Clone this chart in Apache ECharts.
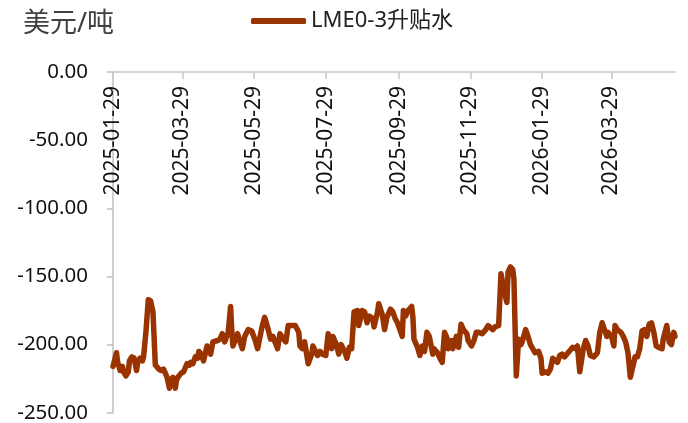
<!DOCTYPE html>
<html>
<head>
<meta charset="utf-8">
<script src="https://cdn.jsdelivr.net/npm/echarts@6/dist/echarts.min.js"></script>
<style>
html,body{margin:0;padding:0;background:#fff;}
#chart{width:688px;height:423px;}
</style>
</head>
<body>
<div id="chart"></div>
<script>
var seriesName = 'LME0-3升贴水';
var unitLabel = '美元/吨';
var startDate = '2025-01-29';
var endDate = '2026-05-22';
var yTicks = [0, -50, -100, -150, -200, -250];

var dates = [
'2025-01-29','2025-02-01','2025-02-02','2025-02-04','2025-02-06','2025-02-07','2025-02-09','2025-02-11','2025-02-12','2025-02-14',
'2025-02-16','2025-02-18','2025-02-19','2025-02-21','2025-02-23','2025-02-24','2025-02-26','2025-02-28','2025-03-02','2025-03-03',
'2025-03-04','2025-03-06','2025-03-07','2025-03-09','2025-03-11','2025-03-13','2025-03-14','2025-03-16','2025-03-18','2025-03-19',
'2025-03-21','2025-03-23','2025-03-24','2025-03-26','2025-03-28','2025-03-30','2025-03-31','2025-04-02','2025-04-04','2025-04-05',
'2025-04-07','2025-04-09','2025-04-11','2025-04-12','2025-04-14','2025-04-16','2025-04-19','2025-04-22','2025-04-24','2025-04-28',
'2025-04-30','2025-05-02','2025-05-04','2025-05-07','2025-05-09','2025-05-10','2025-05-11','2025-05-15','2025-05-16','2025-05-19',
'2025-05-21','2025-05-24','2025-05-27','2025-05-30','2025-06-01','2025-06-05','2025-06-07','2025-06-10','2025-06-12','2025-06-14',
'2025-06-18','2025-06-20','2025-06-23','2025-06-25','2025-06-27','2025-06-30','2025-07-03','2025-07-06','2025-07-07','2025-07-09',
'2025-07-11','2025-07-14','2025-07-17','2025-07-18','2025-07-22','2025-07-24','2025-07-26','2025-07-29','2025-07-31','2025-08-03',
'2025-08-04','2025-08-07','2025-08-09','2025-08-11','2025-08-14','2025-08-16','2025-08-18','2025-08-20','2025-08-22','2025-08-25',
'2025-08-26','2025-08-29','2025-08-31','2025-09-02','2025-09-04','2025-09-07','2025-09-08','2025-09-11','2025-09-12','2025-09-15',
'2025-09-17','2025-09-19','2025-09-22','2025-09-24','2025-09-26','2025-09-28','2025-09-30','2025-10-02','2025-10-03','2025-10-05',
'2025-10-07','2025-10-10','2025-10-11','2025-10-12','2025-10-15','2025-10-17','2025-10-19','2025-10-21','2025-10-23','2025-10-25',
'2025-10-28','2025-10-29','2025-11-01','2025-11-03','2025-11-05','2025-11-07','2025-11-09','2025-11-10','2025-11-13','2025-11-14',
'2025-11-17','2025-11-19','2025-11-21','2025-11-23','2025-11-26','2025-11-27','2025-11-30','2025-12-02','2025-12-04','2025-12-06',
'2025-12-09','2025-12-12','2025-12-14','2025-12-18','2025-12-20','2025-12-23','2025-12-25','2025-12-26','2025-12-28','2025-12-30',
'2025-12-31','2026-01-02','2026-01-04','2026-01-05','2026-01-07','2026-01-09','2026-01-11','2026-01-12','2026-01-15','2026-01-17',
'2026-01-19','2026-01-21','2026-01-23','2026-01-26','2026-01-28','2026-01-29','2026-02-01','2026-02-03','2026-02-05','2026-02-07',
'2026-02-08','2026-02-11','2026-02-13','2026-02-15','2026-02-17','2026-02-20','2026-02-21','2026-02-24','2026-02-26','2026-02-28',
'2026-03-02','2026-03-05','2026-03-07','2026-03-09','2026-03-11','2026-03-14','2026-03-15','2026-03-17','2026-03-19','2026-03-21',
'2026-03-23','2026-03-25','2026-03-26','2026-03-29','2026-03-31','2026-04-01','2026-04-03','2026-04-06','2026-04-08','2026-04-10',
'2026-04-12','2026-04-14','2026-04-17','2026-04-18','2026-04-20','2026-04-22','2026-04-24','2026-04-26','2026-04-28','2026-04-30',
'2026-05-02','2026-05-04','2026-05-06','2026-05-08','2026-05-11','2026-05-12','2026-05-15','2026-05-17','2026-05-19','2026-05-21',
'2026-05-22'
];

var values = [
-216,-206,-213,-219,-216,-220,-223,-220,-212,-209,
-210,-219,-213,-210,-212,-209,-191,-167,-168,-172,
-176,-215,-215,-218,-219,-218,-220,-224,-232,-226,
-224,-232,-226,-223,-221,-220,-219,-214,-215,-213,
-214,-209,-210,-205,-207,-212,-201,-207,-198,-197,
-196,-192,-198,-191,-172,-189,-201,-192,-195,-203,
-194,-189,-190,-197,-203,-186,-180,-189,-196,-194,
-203,-192,-196,-198,-186,-186,-186,-191,-201,-203,
-198,-214,-207,-201,-208,-205,-207,-208,-192,-203,
-194,-200,-207,-200,-205,-210,-202,-203,-176,-175,
-186,-175,-176,-184,-179,-181,-187,-176,-170,-178,
-189,-180,-174,-176,-181,-184,-189,-194,-175,-179,
-175,-172,-179,-196,-202,-208,-201,-205,-191,-194,
-207,-203,-206,-210,-213,-191,-195,-203,-197,-203,
-194,-202,-185,-189,-192,-197,-201,-197,-191,-191,
-192,-189,-186,-189,-187,-186,-148,-148,-162,-169,
-147,-143,-145,-152,-223,-196,-200,-198,-189,-194,
-200,-203,-206,-205,-210,-221,-220,-221,-218,-210,
-210,-213,-208,-207,-209,-206,-207,-202,-203,-201,
-220,-203,-197,-201,-208,-209,-208,-206,-191,-184,
-189,-194,-191,-194,-201,-186,-189,-191,-194,-198,
-206,-224,-213,-209,-209,-203,-190,-189,-194,-185,
-184,-191,-201,-202,-203,-196,-186,-198,-200,-191,
-194
];

// daily category axis from start to end
function buildDays(s, e) {
  var out = [];
  var d = new Date(s + 'T00:00:00Z');
  var end = new Date(e + 'T00:00:00Z');
  while (d <= end) {
    out.push(d.toISOString().slice(0, 10));
    d.setUTCDate(d.getUTCDate() + 1);
  }
  return out;
}
var days = buildDays(startDate, endDate);
var lookup = {};
dates.forEach(function (d, i) { lookup[d] = values[i]; });
var seriesData = days.map(function (d) { return lookup[d] === undefined ? null : lookup[d]; });

function isTickDay(v) {
  var m = parseInt(v.slice(5, 7), 10);
  return v.slice(8, 10) === '29' && (m % 2 === 1);
}

var FONT = '"Noto Sans", "Noto Sans CJK SC", sans-serif';
var chart = echarts.init(document.getElementById('chart'), null, {renderer: 'canvas'});
chart.setOption({
  animation: false,
  backgroundColor: '#ffffff',
  textStyle: {fontFamily: FONT},
  title: {
    text: unitLabel,
    left: 18, top: 6,
    textStyle: {fontSize: 27, fontWeight: 'normal', color: '#404040', fontFamily: FONT}
  },
  legend: {
    left: 246, top: 5,
    icon: 'roundRect',
    itemWidth: 55, itemHeight: 6, itemGap: 5,
    textStyle: {fontSize: 22, color: '#222', fontFamily: FONT},
    data: [seriesName]
  },
  grid: {left: 113, right: 13, top: 72, bottom: 9, containLabel: false},
  xAxis: {
    type: 'category',
    position: 'top',
    data: days,
    boundaryGap: false,
    axisLine: {show: true, lineStyle: {color: '#C8C8C8', width: 1.5}},
    axisTick: {show: true, inside: true, length: 7, interval: function (i, v) { return isTickDay(v); }, lineStyle: {color: '#C8C8C8', width: 1.5}},
    axisLabel: {
      show: true, inside: true, rotate: 90, margin: 14,
      interval: function (i, v) { return isTickDay(v); },
      fontSize: 21, color: '#111', fontFamily: FONT
    },
    splitLine: {show: false}
  },
  yAxis: {
    type: 'value',
    min: -250, max: 0, interval: 50,
    axisLine: {show: true, lineStyle: {color: '#BFBFBF', width: 1.5}},
    axisTick: {show: true, length: 6, lineStyle: {color: '#BFBFBF', width: 1.5}},
    axisLabel: {
      margin: 25, fontSize: 20.5, color: '#111', fontFamily: FONT,
      formatter: function (v) { return v.toFixed(2); }
    },
    splitLine: {show: false}
  },
  series: [{
    name: seriesName,
    type: 'line',
    data: seriesData,
    connectNulls: true,
    showSymbol: false,
    symbol: 'none',
    color: '#993300',
    lineStyle: {color: '#993300', width: 5.5, cap: 'round', join: 'round'},
    itemStyle: {color: '#993300'}
  }]
});
</script>
</body>
</html>
